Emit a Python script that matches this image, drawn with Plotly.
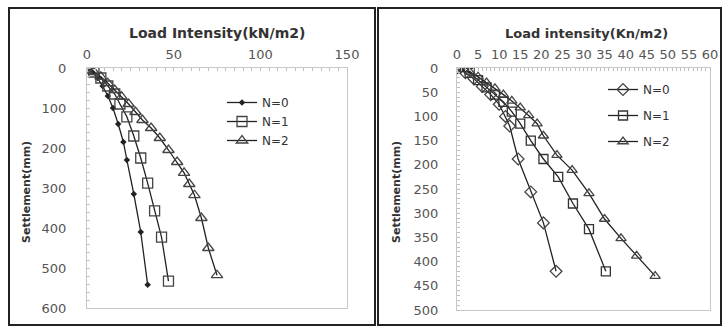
import plotly.graph_objects as go

W, H = 723, 327

# ---- Left chart data: Load intensity (kN/m2) vs Settlement (mm)
left_n0_load = [0, 3, 6, 9, 12, 15, 18, 21, 23, 27, 31, 35]
left_n0_settle = [0, 10, 25, 45, 70, 100, 140, 185, 230, 315, 410, 542]
left_n1_load = [0, 4, 8, 12, 16, 19, 23, 27, 31, 35, 39, 43, 47]
left_n1_settle = [0, 10, 25, 45, 65, 90, 122, 170, 225, 288, 357, 423, 533]
left_n2_load = [0, 4, 8, 12, 16, 20, 24, 28, 32, 37, 42, 47, 52, 56, 59, 62, 66, 70, 75]
left_n2_settle = [0, 10, 22, 38, 55, 72, 90, 110, 130, 150, 175, 205, 235, 262, 290, 318, 375, 450, 518]
left_xticks = [0, 50, 100, 150]
left_yticks = [0, 100, 200, 300, 400, 500, 600]

# ---- Right chart data: Load intensity (Kn/m2) vs Settlement (mm)
right_n0_load = [0, 2, 4, 6, 8, 10, 11.5, 12.5, 14.5, 17.5, 20.5, 23.5]
right_n0_settle = [0, 10, 22, 38, 55, 75, 100, 120, 188, 256, 320, 420]
right_n1_load = [0, 3, 5, 7, 9, 11, 13, 15, 17.5, 20.5, 24, 27.5, 31.3, 35.3]
right_n1_settle = [0, 10, 25, 40, 55, 70, 90, 115, 150, 188, 225, 280, 333, 420]
right_n2_load = [0, 3, 5, 7, 9, 11, 13, 15, 17, 19, 20.5, 23.7, 27.3, 31.3, 35, 38.9, 42.6, 47]
right_n2_settle = [0, 8, 18, 30, 42, 55, 68, 82, 98, 115, 140, 180, 211, 259, 312, 352, 388, 430]
right_xticks = list(range(0, 61, 5))
right_yticks = list(range(0, 501, 50))

series_names = ["N=0", "N=1", "N=2"]

def px_x(p):
    return p / W

def px_y(p):
    return 1 - p / H

LINE = "#222222"
FONT = "DejaVu Sans"
TICKC = "#555555"

fig = go.Figure()

left_data = [(left_n0_load, left_n0_settle), (left_n1_load, left_n1_settle), (left_n2_load, left_n2_settle)]
left_markers = [dict(symbol="diamond", size=5, color=LINE),
                dict(symbol="square-open", size=10, color="#444444", line=dict(width=1.3)),
                dict(symbol="triangle-up-open", size=10, color="#444444", line=dict(width=1.3))]
for i, (xv, yv) in enumerate(left_data):
    fig.add_trace(go.Scatter(x=xv, y=yv, mode="lines+markers", name=series_names[i],
                             line=dict(color=LINE, width=1.3), marker=left_markers[i],
                             xaxis="x", yaxis="y", legend="legend", legendgroup="L%d" % i))

right_data = [(right_n0_load, right_n0_settle), (right_n1_load, right_n1_settle), (right_n2_load, right_n2_settle)]
right_markers = [dict(symbol="diamond-open", size=9, color="#444444", line=dict(width=1.3)),
                 dict(symbol="square-open", size=9, color="#333333", line=dict(width=1.3)),
                 dict(symbol="triangle-up-open", size=9, color="#444444", line=dict(width=1.3))]
for i, (xv, yv) in enumerate(right_data):
    fig.add_trace(go.Scatter(x=xv, y=yv, mode="lines+markers", name=series_names[i],
                             line=dict(color=LINE, width=1.3), marker=right_markers[i],
                             xaxis="x2", yaxis="y2", legend="legend2", legendgroup="R%d" % i))

axis_common = dict(showgrid=False, zeroline=False, showline=True, linecolor="#c8c8c8", linewidth=1,
                   mirror=True, tickfont=dict(family=FONT, size=13, color=TICKC), tickangle=0,
                   ticks="outside", ticklen=0, tickcolor="#c8c8c8", automargin=False)

def minor(d):
    return dict(ticks="inside", ticklen=3, tickcolor="#c0c0c0", dtick=d, showgrid=False)

fig.update_layout(
    width=W, height=H, autosize=False,
    margin=dict(l=0, r=0, t=0, b=0, pad=0, autoexpand=False),
    paper_bgcolor="white", plot_bgcolor="white",
    xaxis=dict(domain=[px_x(87), px_x(347)], range=[0, 150], tickvals=left_xticks, side="top",
               anchor="y", ticklabelstandoff=3, minor=minor(5), **axis_common),
    yaxis=dict(domain=[px_y(308), px_y(68)], range=[600, 0], tickvals=left_yticks,
               anchor="x", ticklabelstandoff=17, minor=minor(20), **axis_common),
    xaxis2=dict(domain=[px_x(457), px_x(710)], range=[0, 60], tickvals=right_xticks, side="top",
                anchor="y2", ticklabelstandoff=3, minor=minor(1), **axis_common),
    yaxis2=dict(domain=[px_y(310), px_y(68)], range=[500, 0], tickvals=right_yticks,
                anchor="x2", ticklabelstandoff=15, minor=minor(10), **axis_common),
    legend=dict(x=px_x(222), y=px_y(88), xanchor="left", yanchor="top",
                font=dict(family=FONT, size=12, color="#333333"), bgcolor="rgba(0,0,0,0)",
                tracegroupgap=0, itemwidth=30),
    legend2=dict(x=px_x(603), y=px_y(75), xanchor="left", yanchor="top",
                 font=dict(family=FONT, size=12, color="#333333"), bgcolor="rgba(0,0,0,0)",
                 tracegroupgap=7, itemwidth=30),
    annotations=[
        dict(text="<b>Load Intensity(kN/m2)</b>", x=px_x(217), y=px_y(33), xref="paper", yref="paper",
             xanchor="center", yanchor="middle",
             showarrow=False, font=dict(family=FONT, size=14, color="#333333")),
        dict(text="<b>Load intensity(Kn/m2)</b>", x=px_x(586), y=px_y(33), xref="paper", yref="paper",
             xanchor="center", yanchor="middle",
             showarrow=False, font=dict(family=FONT, size=13, color="#333333")),
        dict(text="<b>Settlement(mm)</b>", x=px_x(26), y=px_y(192), xref="paper", yref="paper",
             xanchor="center", yanchor="middle",
             showarrow=False, textangle=-90, font=dict(family=FONT, size=11, color="#333333")),
        dict(text="<b>Settlement(mm)</b>", x=px_x(396), y=px_y(192), xref="paper", yref="paper",
             xanchor="center", yanchor="middle",
             showarrow=False, textangle=-90, font=dict(family=FONT, size=11, color="#333333")),
    ],
    shapes=[
        dict(type="rect", xref="paper", yref="paper", x0=px_x(9), x1=px_x(375), y0=px_y(325), y1=px_y(8),
             line=dict(color="#222222", width=2)),
        dict(type="rect", xref="paper", yref="paper", x0=px_x(378), x1=px_x(721), y0=px_y(325), y1=px_y(8),
             line=dict(color="#222222", width=2)),
    ],
    showlegend=True,
)

fig.write_html("out.html")
